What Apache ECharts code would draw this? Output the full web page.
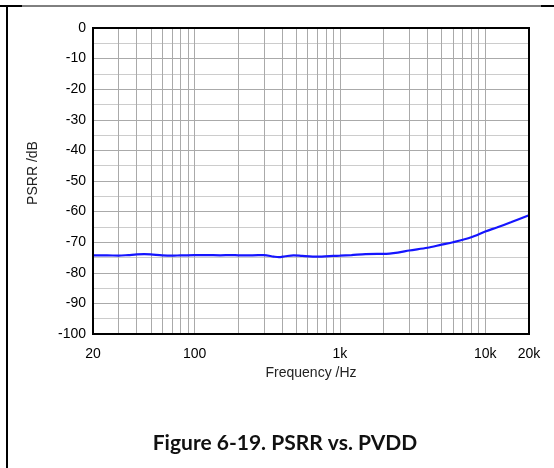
<!DOCTYPE html>
<html>
<head>
<meta charset="utf-8">
<script src="https://cdn.jsdelivr.net/npm/echarts@6/dist/echarts.min.js"></script>
<style>
html,body{margin:0;padding:0;background:#fff;}
#chart{width:554px;height:468px;}
</style>
</head>
<body>
<div id="chart"></div>
<script>
const freqHz = [20,25,30,35,40,45,50,60,70,80,100,120,150,180,200,250,300,350,380,420,480,550,650,750,900,1000,1200,1500,1800,2000,2500,3000,4000,5000,6000,8000,10000,12000,15000,20000];
const psrrDb = [-74.3,-74.3,-74.4,-74.2,-74.0,-73.9,-74.0,-74.3,-74.4,-74.3,-74.2,-74.2,-74.3,-74.2,-74.3,-74.3,-74.2,-74.7,-74.9,-74.6,-74.3,-74.5,-74.7,-74.7,-74.5,-74.4,-74.2,-73.9,-73.8,-73.8,-73.4,-72.7,-71.8,-70.8,-70.0,-68.4,-66.5,-65.2,-63.5,-61.2];
const xLabelValues = [20,100,1000,10000,20000];
const xLabelText = ['20','100','1k','10k','20k'];
const xGridValues = [30,40,50,60,70,80,90,100,200,300,400,500,600,700,800,900,1000,2000,3000,4000,5000,6000,7000,8000,9000,10000];
const yMin = -100, yMax = 0, yStep = 10;
const xName = 'Frequency /Hz';
const yName = 'PSRR /dB';
const caption = 'Figure 6-19. PSRR vs. PVDD';

const chart = echarts.init(document.getElementById('chart'), null, {renderer:'canvas'});
const font = 'Liberation Sans, Arial, sans-serif';
chart.setOption({
  animation:false,
  backgroundColor:'#fff',
  grid:{left:93,right:25,top:28,bottom:134,show:true,borderColor:'#000',borderWidth:2,backgroundColor:'transparent',z:5},
  xAxis:{
    type:'log', logBase:10, min:20, max:20000,
    name:xName, nameLocation:'middle', nameGap:32,
    nameTextStyle:{fontFamily:font,fontSize:14,color:'#222'},
    axisLine:{show:false},
    axisTick:{show:false, customValues:xGridValues},
    axisLabel:{customValues:xLabelValues, fontFamily:font,fontSize:14,color:'#000',margin:13,
      formatter:function(v){const i=xLabelValues.indexOf(Math.round(v));return i>=0?xLabelText[i]:'';}},
    splitLine:{show:true,lineStyle:{color:'#aaaaaa',width:1}},
    minorSplitLine:{show:false}
  },
  yAxis:{
    type:'value', min:yMin, max:yMax, interval:yStep,
    name:yName, nameLocation:'middle', nameGap:53, nameRotate:90,
    nameTextStyle:{fontFamily:font,fontSize:14,color:'#222',padding:[0,0,0,16]},
    axisLine:{show:false}, axisTick:{show:false},
    axisLabel:{fontFamily:font,fontSize:14,color:'#000',margin:7},
    splitLine:{show:true,lineStyle:{color:'#aaaaaa',width:1}},
    minorTick:{show:false,splitNumber:2},
    minorSplitLine:{show:true,lineStyle:{color:'#cccccc',width:1}}
  },
  series:[{
    type:'line', data:freqHz.map((f,i)=>[f,psrrDb[i]]), showSymbol:false, smooth:0.3,
    lineStyle:{color:'#1515ff',width:2.2}, z:3
  }],
  graphic:[
    {type:'line',shape:{x1:0,y1:6,x2:542,y2:6},style:{stroke:'#000',lineWidth:1}},
    {type:'line',shape:{x1:0,y1:6,x2:22,y2:6},style:{stroke:'#000',lineWidth:2}},
    {type:'line',shape:{x1:541,y1:6,x2:554,y2:6},style:{stroke:'#000',lineWidth:2}},
    {type:'line',shape:{x1:7,y1:5,x2:7,y2:468},style:{stroke:'#000',lineWidth:2}},
    {type:'text',x:285,y:443,style:{text:caption,font:'bold 21px Lato, "Open Sans", sans-serif',fill:'#111',textAlign:'center',textVerticalAlign:'middle'}}
  ]
});
</script>
</body>
</html>
